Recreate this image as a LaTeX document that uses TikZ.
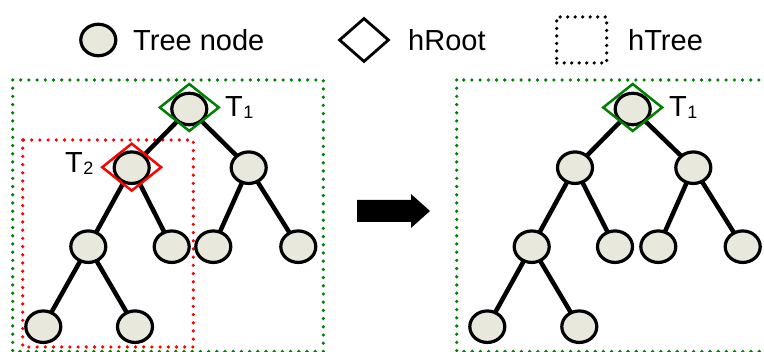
\documentclass[tikz,border=0pt]{standalone}
\usepackage{fontspec}
\setmainfont{Liberation Sans}
\usetikzlibrary{shapes.geometric}
\definecolor{nodefill}{RGB}{232,232,220}
\definecolor{hgreen}{RGB}{0,128,0}
\definecolor{hred}{RGB}{255,0,0}
\begin{document}
\begin{tikzpicture}[x=1pt,y=-1pt,
  tnode/.style={ellipse,draw=black,line width=3.2pt,fill=nodefill,inner sep=0pt,minimum width=35pt,minimum height=31.5pt},
  edge/.style={line width=4.5pt,black},
  hroot/.style={diamond,draw,line width=2.5pt,inner sep=0pt,minimum width=60pt,minimum height=48pt},
  htree/.style={line width=3.6pt,dash pattern=on 0pt off 8.2pt,line cap=round},
  lbl/.style={font=\fontsize{29}{29}\selectfont,inner sep=0pt,anchor=base west},
  sub/.style={font=\fontsize{18}{18}\selectfont,inner sep=0pt,anchor=base west}
]
\useasboundingbox (0,0) rectangle (764,352);
\begin{scope}
\clip (0,0) rectangle (764,352);
% hTree rectangles
\draw[htree,hgreen] (12.7,80) rectangle (323.3,351.5);
\draw[htree,hred] (22.7,140) rectangle (193.3,347);
\draw[htree,hgreen] (456.7,80) rectangle (775,351.5);
\end{scope}

% legend
\node[tnode] (lc) at (98.3,40) {};
\node[lbl] (lt) at (133,50.7) {Tree node};
\node[hroot,minimum width=50pt,minimum height=44pt,line width=2.8pt] (ld) at (364,40) {};
\node[lbl] (lr) at (408,50.7) {hRoot};
\node[htree,draw,black,minimum width=50pt,minimum height=46pt,line width=3.6pt,dash pattern=on 0pt off 7.5pt,inner sep=0pt] (ls) at (581.7,40) {};
\node[lbl] (lh) at (628,50.7) {hTree};

% left tree nodes
\coordinate (a0) at (189.3,109);
\coordinate (a1) at (131.7,167.7);
\coordinate (a2) at (248.7,167.7);
\coordinate (a11) at (88.3,246.7);
\coordinate (a12) at (171.7,246.7);
\coordinate (a21) at (213.3,246.7);
\coordinate (a22) at (298.3,246.7);
\coordinate (a111) at (43.3,326.7);
\coordinate (a112) at (135,326.7);
% right tree
\coordinate (b0) at (632.7,109);
\coordinate (b1) at (575,167.7);
\coordinate (b2) at (693.3,167.7);
\coordinate (b11) at (531.7,246.7);
\coordinate (b12) at (615,246.7);
\coordinate (b21) at (658.3,246.7);
\coordinate (b22) at (742.7,246.7);
\coordinate (b111) at (487.3,326.7);
\coordinate (b112) at (579.3,326.7);

\foreach \p in {a,b}{
  \draw[edge] (\p0) -- (\p1);
  \draw[edge] (\p0) -- (\p2);
  \draw[edge] (\p1) -- (\p11);
  \draw[edge] (\p1) -- (\p12);
  \draw[edge] (\p2) -- (\p21);
  \draw[edge] (\p2) -- (\p22);
  \draw[edge] (\p11) -- (\p111);
  \draw[edge] (\p11) -- (\p112);
  \foreach \q in {0,1,2,11,12,21,22,111,112}{
    \node[tnode] (n\p\q) at (\p\q) {};
  }
}

% hRoot diamonds
\node[hroot,draw=hgreen] (da) at ([yshift=1.5pt]a0) {};
\node[hroot,draw=hred] (db) at ([yshift=0.5pt]a1) {};
\node[hroot,draw=hgreen] (dc) at ([yshift=1.5pt]b0) {};

% labels
\node[lbl] (t1a) at (225,116.7) {T};
\node[sub] (s1a) at (t1a.base east) {\raisebox{-1.5pt}{1}};
\node[lbl] (t2) at (65,172.7) {T};
\node[sub] (s2) at (t2.base east) {\raisebox{-1.5pt}{2}};
\node[lbl] (t1b) at (669,116.7) {T};
\node[sub] (s1b) at (t1b.base east) {\raisebox{-1.5pt}{1}};

% transformation arrow
\fill[black] (357,200) -- (411,200) -- (411,194) -- (430,211) -- (411,228) -- (411,222) -- (357,222) -- cycle;
\end{tikzpicture}
\end{document}
